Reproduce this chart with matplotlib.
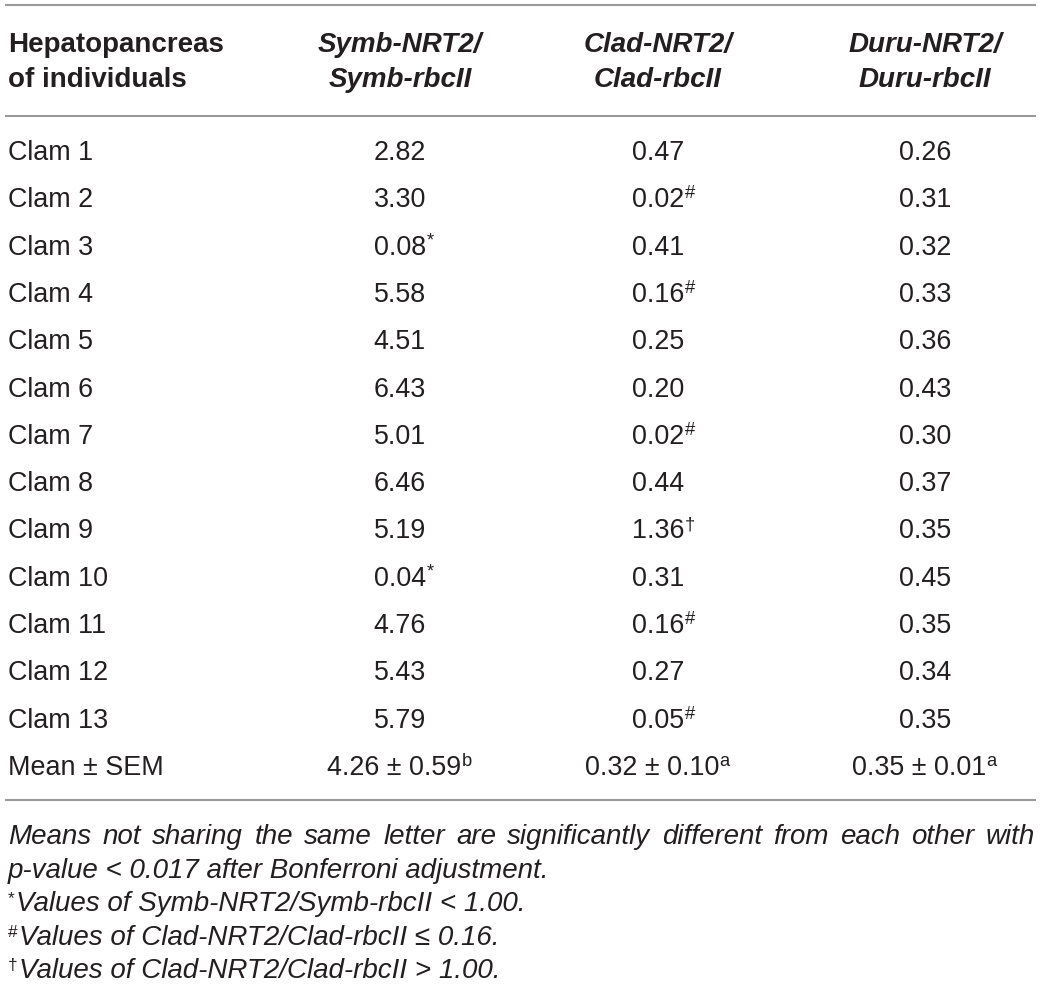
import matplotlib
matplotlib.use("Agg")
import matplotlib.pyplot as plt

# ── Table data ───────────────────────────────────────────
row_labels = [f"Clam {i}" for i in range(1, 14)]
symb_vals = ["2.82", "3.30", "0.08", "5.58", "4.51", "6.43", "5.01",
             "6.46", "5.19", "0.04", "4.76", "5.43", "5.79"]
symb_marks = ["", "", "*", "", "", "", "", "", "", "*", "", "", ""]
clad_vals = ["0.47", "0.02", "0.41", "0.16", "0.25", "0.20", "0.02",
             "0.44", "1.36", "0.31", "0.16", "0.27", "0.05"]
clad_marks = ["", "#", "", "#", "", "", "#", "", "\u2020", "", "#", "", "#"]
duru_vals = ["0.26", "0.31", "0.32", "0.33", "0.36", "0.43", "0.30",
             "0.37", "0.35", "0.45", "0.35", "0.34", "0.35"]
duru_marks = [""] * 13

header_first = ["Hepatopancreas", "of individuals"]
col_headers = [["Symb-NRT2/", "Symb-rbcII"],
               ["Clad-NRT2/", "Clad-rbcII"],
               ["Duru-NRT2/", "Duru-rbcII"]]
mean_label = "Mean \u00b1 SEM"
mean_vals = ["4.26 \u00b1 0.59", "0.32 \u00b1 0.10", "0.35 \u00b1 0.01"]
mean_marks = ["b", "a", "a"]

footnotes = [
    ("", "Means not sharing the same letter are significantly different from each other with"),
    ("", "p-value < 0.017 after Bonferroni adjustment."),
    ("*", "Values of Symb-NRT2/Symb-rbcII < 1.00."),
    ("#", "Values of Clad-NRT2/Clad-rbcII \u2264 0.16."),
    ("\u2020", "Values of Clad-NRT2/Clad-rbcII > 1.00."),
]

# ── Layout (pixels) ──────────────────────────────────────
W, H = 1041, 996
TXT = "#231f20"
RULE = "#9a9a9a"
FS = 19.4
FS_HEAD = 20.0
FS_NOTE = 20.0
FAM = ["Liberation Sans", "DejaVu Sans"]
col_x = [400, 658, 925]
left_x = 8
right_x = 1035
row_y0, row_dy = 153, 47.3

fig = plt.figure(figsize=(W / 100, H / 100), dpi=100)
ax = fig.add_axes([0, 0, 1, 1])
ax.set_xlim(0, W)
ax.set_ylim(H, 0)
ax.axis("off")
renderer = fig.canvas.get_renderer()


def cell(x, y, text, mark="", **kw):
    t = ax.text(x, y, text, ha="center", va="center", fontsize=FS,
                color=TXT, family=FAM, **kw)
    if mark:
        ax.annotate(mark, xy=(1, 1.0), xycoords=t, xytext=(0.3, 1.5),
                    textcoords="offset points", ha="left", va="top",
                    fontsize=FS * 0.68, color=TXT, family=FAM)
    return t


# rules
for y in (5, 116, 800):
    ax.plot([5, 1036], [y, y], color=RULE, linewidth=1.5,
            solid_capstyle="butt")

# header
for i, line in enumerate(header_first):
    ax.text(left_x, 45 + 35 * i, line, ha="left", va="center",
            fontsize=FS_HEAD, fontweight="bold", color=TXT, family=FAM)
for x, lines in zip(col_x, col_headers):
    for i, line in enumerate(lines):
        ax.text(x, 45 + 35 * i, line, ha="center", va="center",
                fontsize=FS_HEAD, fontweight="bold", fontstyle="italic",
                color=TXT, family=FAM)

# body rows
for r, label in enumerate(row_labels):
    y = row_y0 + r * row_dy
    ax.text(left_x, y, label, ha="left", va="center", fontsize=FS,
            color=TXT, family=FAM)
    cell(col_x[0], y, symb_vals[r], symb_marks[r])
    cell(col_x[1], y, clad_vals[r], clad_marks[r])
    cell(col_x[2], y, duru_vals[r], duru_marks[r])

# mean row
y = row_y0 + len(row_labels) * row_dy
ax.text(left_x, y, mean_label, ha="left", va="center", fontsize=FS,
        color=TXT, family=FAM)
for x, v, m in zip(col_x, mean_vals, mean_marks):
    cell(x - 6, y, v, m)


def note_kw():
    return dict(ha="left", va="center", fontsize=FS_NOTE, fontstyle="italic",
                color=TXT, family=FAM)


# footnotes (first line justified to full width)
for i, (mark, note) in enumerate(footnotes):
    fy = 837 + 33.5 * i
    x0 = left_x
    if mark:
        m = ax.text(left_x, fy - 13, mark, ha="left", va="top",
                    fontsize=FS_NOTE * 0.62, color=TXT, family=FAM)
        x0 = left_x + m.get_window_extent(renderer).width + 1
    if i == 0:
        words = note.split()
        arts = [ax.text(0, fy, w, **note_kw()) for w in words]
        widths = [a.get_window_extent(renderer).width for a in arts]
        gap = (right_x - left_x - sum(widths)) / (len(words) - 1)
        xx = left_x
        for a, w in zip(arts, widths):
            a.set_x(xx)
            xx += w + gap
    else:
        ax.text(x0, fy, note, **note_kw())

fig.savefig("out.png", dpi=100, facecolor="white")
